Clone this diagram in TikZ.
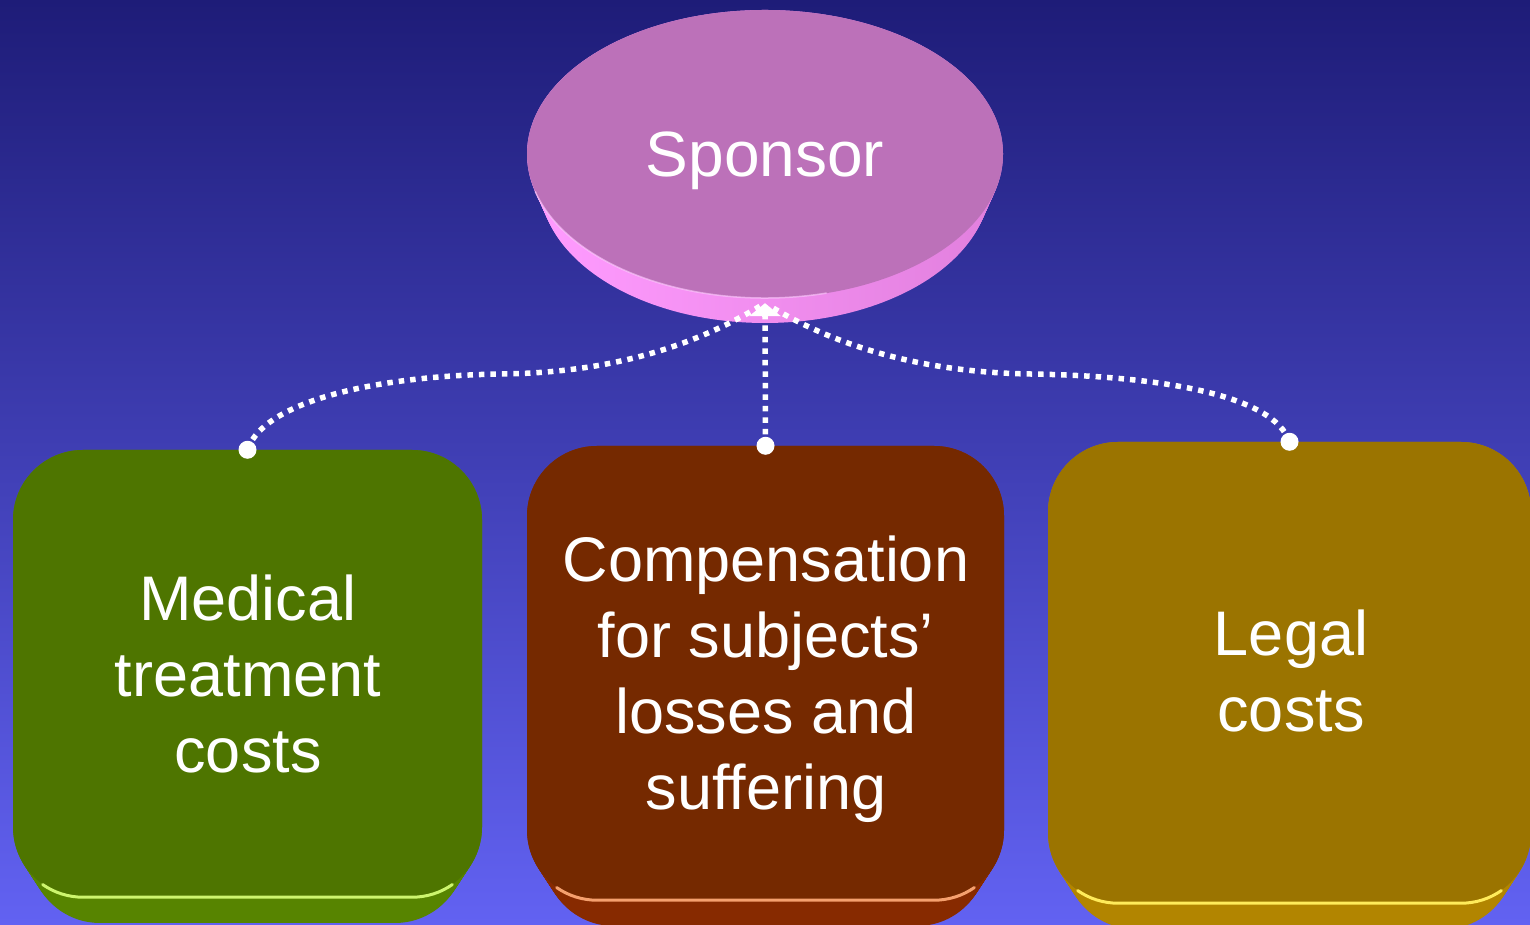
\documentclass[tikz,border=0pt]{standalone}
\usepackage{fontspec}
\setmainfont{Liberation Sans}
\usetikzlibrary{arrows.meta,calc,shapes.geometric}

\definecolor{bgtop}{RGB}{30,28,120}
\definecolor{bgbottom}{RGB}{98,98,242}
\definecolor{sponsortop}{RGB}{188,113,185}
\definecolor{sponsorsideL}{RGB}{255,155,255}
\definecolor{sponsorsideR}{RGB}{226,128,222}
\definecolor{sponsorrim}{RGB}{255,205,255}
\definecolor{greenface}{RGB}{78,117,0}
\definecolor{greenside}{RGB}{87,132,0}
\definecolor{greenlight}{RGB}{205,245,110}
\definecolor{brownface}{RGB}{117,41,0}
\definecolor{brownside}{RGB}{135,42,0}
\definecolor{brownlight}{RGB}{245,160,110}
\definecolor{goldface}{RGB}{155,116,0}
\definecolor{goldside}{RGB}{178,133,0}
\definecolor{goldlight}{RGB}{255,235,90}

\tikzset{
  tile/.style={rectangle, rounded corners=70pt, inner sep=0pt, draw=none},
  tiletext/.style={text=white, align=center, anchor=base, inner sep=0pt,
    font=\fontsize{63}{76}\selectfont},
  link/.style={white, line width=5.5pt, dash pattern=on 5.5pt off 6pt},
  linkhead/.style={white, line width=5.5pt, -{Triangle[width=31pt,length=13pt]}},
  rim/.style={line width=3pt, line cap=round},
}

% bevelled underside of a tile: a stack of rounded rectangles sliding down
\newcommand\tileside[5]{%
  \foreach \i in {0,...,20}{%
    \pgfmathsetmacro\s{\i/20}%
    \fill[#5, rounded corners=70pt] ({#1+17*\s},{#2-26*\s}) rectangle ({#3-17*\s},{#4-26*\s});
  }%
}
% light edge along the bottom of a tile face
\newcommand\tilerim[2]{%
  \draw[rim, #2] ([shift={(29.85pt,12.66pt)}]#1.south west)
    arc[start angle=235, end angle=270, radius=70pt]
    -- ([xshift=-70pt]#1.south east)
    arc[start angle=270, end angle=305, radius=70pt];
}

\begin{document}
\begin{tikzpicture}[x=1pt, y=1pt]
\useasboundingbox (0,0) rectangle (1530,925);
\clip (0,0) rectangle (1530,925);

% backdrop
\shade[top color=bgtop, bottom color=bgbottom] (0,0) rectangle (1530,925);

% sponsor disc: side band, then top face
\foreach \i in {0,...,20}{%
  \pgfmathsetmacro\s{\i/20}%
  \shade[left color=sponsorsideL, right color=sponsorsideR]
    (765,{771-29*\s}) ellipse [x radius={238-13*\s}, y radius={144-4*\s}];
}
\node[ellipse, minimum width=476pt, minimum height=288pt, inner sep=0pt,
      fill=sponsortop, text=white, font=\fontsize{64}{76}\selectfont,
      text depth=0pt] (sponsor) at (765,771) {Sponsor};
\draw[sponsorrim, line width=1.5pt, opacity=0.6]
  ($(sponsor.center)+(195:238 and 144)$)
  arc[start angle=195, end angle=285, x radius=238, y radius=144];

% tiles
\tileside{13}{28}{482}{475}{greenside}
\tileside{527}{25}{1004}{479}{brownside}
\tileside{1048}{22}{1531}{483}{goldside}

\node[tile, fill=greenface, minimum width=469pt, minimum height=447pt] (medical) at (247.5,251.5) {};
\node[tile, fill=brownface, minimum width=477pt, minimum height=454pt] (compensation) at (765.5,252) {};
\node[tile, fill=goldface, minimum width=483pt, minimum height=461pt] (legal) at (1289.5,252.5) {};

\tilerim{medical}{greenlight}
\tilerim{compensation}{brownlight}
\tilerim{legal}{goldlight}

% the base anchor sits on the last line
\node[tiletext] (medicaltext) at (248,152) {Medical\\treatment\\costs};
\node[tiletext] (compensationtext) at (766,115) {Compensation\\for subjects’\\losses and\\suffering};
\node[tiletext] (legaltext) at (1291,193) {Legal\\costs};

% dotted links into the sponsor
\coordinate (hub) at ($(sponsor.south)+(0,-5)$);
\draw[link, shorten >=6pt] (medical.north) .. controls +(17,50) and (380,549) .. (500,551)
  .. controls (630,552) and (712,590) .. (hub);
\draw[link, shorten >=6pt] (legal.north) .. controls +(-16,47) and (1160,549) .. (1030,551)
  .. controls (900,553) and (818,590) .. (hub);
\draw[link, shorten >=10pt] (compensation.north) -- (hub);
% solid arrow head where the links meet
\draw[linkhead] ($(hub)+(0,-14)$) -- (hub);

\fill[white] (medical.north) circle (9);
\fill[white] (compensation.north) circle (9);
\fill[white] (legal.north) circle (9);
\end{tikzpicture}
\end{document}
